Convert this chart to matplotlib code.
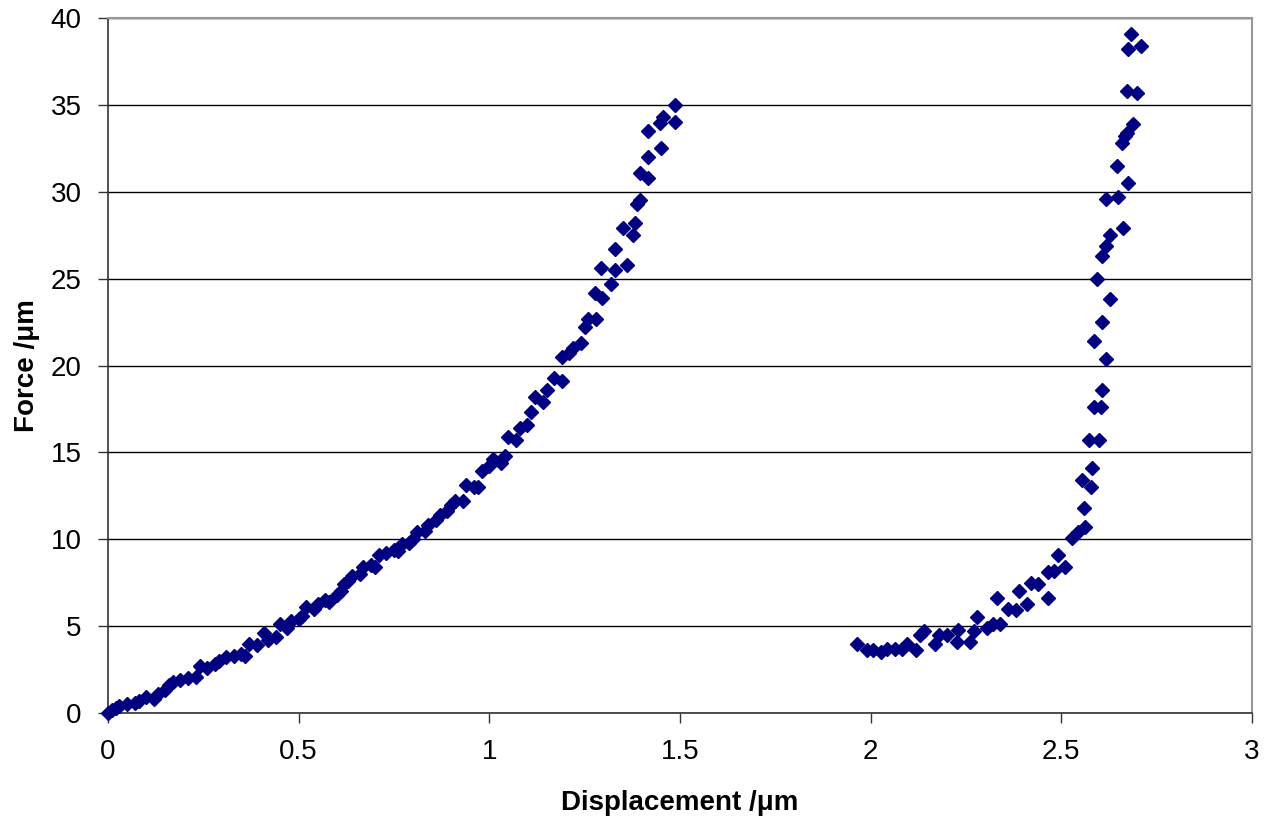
import matplotlib
matplotlib.use("Agg")
from matplotlib import pyplot as plt

# loading branch
load_x = [0.0, 0.01, 0.02, 0.03, 0.05, 0.07, 0.08, 0.10, 0.12, 0.13, 0.15, 0.16, 0.17, 0.19,
          0.21, 0.23, 0.24, 0.26, 0.28, 0.29, 0.31, 0.33, 0.35, 0.36, 0.37, 0.39, 0.41, 0.42,
          0.44, 0.45, 0.47, 0.48, 0.50, 0.51, 0.52, 0.54, 0.55, 0.57, 0.58, 0.60, 0.61, 0.62,
          0.63, 0.64, 0.66, 0.67, 0.69, 0.70, 0.71, 0.73, 0.75, 0.76, 0.77, 0.79, 0.80, 0.81,
          0.83, 0.84, 0.86, 0.87, 0.89, 0.90, 0.91, 0.93, 0.94, 0.96, 0.97, 0.98, 1.00, 1.01,
          1.03, 1.04, 1.05, 1.07, 1.08, 1.10, 1.11, 1.12, 1.14, 1.15, 1.17, 1.19, 1.19, 1.21,
          1.22, 1.24, 1.25, 1.26, 1.28, 1.277, 1.295, 1.293, 1.319, 1.33, 1.33, 1.361, 1.351,
          1.377, 1.382, 1.387, 1.395, 1.395, 1.416, 1.416, 1.45, 1.416, 1.448, 1.456, 1.487, 1.487]
load_y = [0.0, 0.2, 0.3, 0.4, 0.5, 0.6, 0.7, 0.9, 0.8, 1.1, 1.3, 1.6, 1.8, 1.9,
          2.0, 2.1, 2.7, 2.6, 2.8, 3.0, 3.2, 3.3, 3.4, 3.3, 4.0, 3.9, 4.6, 4.2,
          4.4, 5.1, 4.9, 5.3, 5.4, 5.6, 6.1, 6.0, 6.3, 6.5, 6.4, 6.8, 7.0, 7.4,
          7.6, 7.9, 8.0, 8.4, 8.5, 8.4, 9.1, 9.2, 9.4, 9.3, 9.7, 9.8, 10.0, 10.4,
          10.5, 10.8, 11.1, 11.4, 11.6, 12.0, 12.2, 12.2, 13.1, 13.0, 13.0, 13.9, 14.2, 14.6,
          14.4, 14.8, 15.9, 15.7, 16.4, 16.6, 17.3, 18.2, 17.9, 18.6, 19.3, 19.1, 20.5, 20.7,
          21.0, 21.3, 22.2, 22.7, 22.7, 24.2, 23.9, 25.6, 24.7, 25.5, 26.7, 25.8, 27.9,
          27.5, 28.2, 29.3, 29.5, 31.1, 30.8, 32.0, 32.5, 33.5, 33.96, 34.3, 34.0, 35.0]

# unloading branch
unload_x = [1.964, 1.99, 2.006, 2.027, 2.043, 2.064, 2.082, 2.095, 2.12, 2.13, 2.14, 2.17,
            2.18, 2.20, 2.226, 2.23, 2.26, 2.27, 2.28, 2.305, 2.32, 2.34, 2.33, 2.36, 2.38,
            2.39, 2.41, 2.42, 2.44, 2.465, 2.465, 2.48, 2.49, 2.51, 2.528, 2.544, 2.562,
            2.56, 2.578, 2.554, 2.581, 2.573, 2.599, 2.586, 2.604, 2.607, 2.617, 2.586, 2.607,
            2.628, 2.594, 2.607, 2.617, 2.628, 2.662, 2.649, 2.617, 2.675, 2.645, 2.66, 2.667,
            2.672, 2.688, 2.672, 2.699, 2.683, 2.675, 2.709]
unload_y = [3.97, 3.6, 3.6, 3.5, 3.7, 3.7, 3.7, 3.97, 3.6, 4.5, 4.7, 3.97,
            4.5, 4.5, 4.1, 4.8, 4.1, 4.7, 5.5, 4.9, 5.1, 5.1, 6.6, 6.0, 5.9,
            7.0, 6.3, 7.5, 7.4, 6.6, 8.1, 8.2, 9.1, 8.4, 10.1, 10.4, 10.7,
            11.8, 13.0, 13.4, 14.1, 15.7, 15.7, 17.6, 17.6, 18.6, 20.4, 21.4, 22.5,
            23.8, 25.0, 26.3, 26.9, 27.5, 27.9, 29.7, 29.6, 30.5, 31.5, 32.8, 33.2,
            33.4, 33.9, 35.8, 35.7, 39.1, 38.2, 38.4]

plt.rcParams['font.family'] = ['Liberation Sans', 'DejaVu Sans']

fig = plt.figure(figsize=(12.64, 8.21), dpi=100)
ax = fig.add_axes([108 / 1264, 1 - 713 / 821, (1252 - 108) / 1264, (713 - 18) / 821])

ax.plot(load_x + unload_x, load_y + unload_y, linestyle="none", marker="D",
        markersize=7.5, color="#000080", clip_on=False, zorder=3)

ax.set_xlim(0, 3)
ax.set_ylim(0, 40)
ax.set_xticks([0, 0.5, 1, 1.5, 2, 2.5, 3])
ax.set_xticklabels(["0", "0.5", "1", "1.5", "2", "2.5", "3"])
ax.set_yticks(range(0, 41, 5))
ax.yaxis.grid(True, color="black", linewidth=1)
ax.set_axisbelow(True)

for side in ["left", "bottom"]:
    ax.spines[side].set_color("#333333")
    ax.spines[side].set_linewidth(1.2)
for side in ["top", "right"]:
    ax.spines[side].set_color("#999999")
    ax.spines[side].set_linewidth(1.5)

ax.tick_params(direction="out", length=7, width=1, color="#333333",
               labelsize=20, pad=12)

ax.set_xlabel("Displacement /\u03bcm", fontsize=20, fontweight="bold", labelpad=18)
ax.set_ylabel("Force /\u03bcm", fontsize=20, fontweight="bold", labelpad=8)

fig.savefig("out.png", dpi=100)
